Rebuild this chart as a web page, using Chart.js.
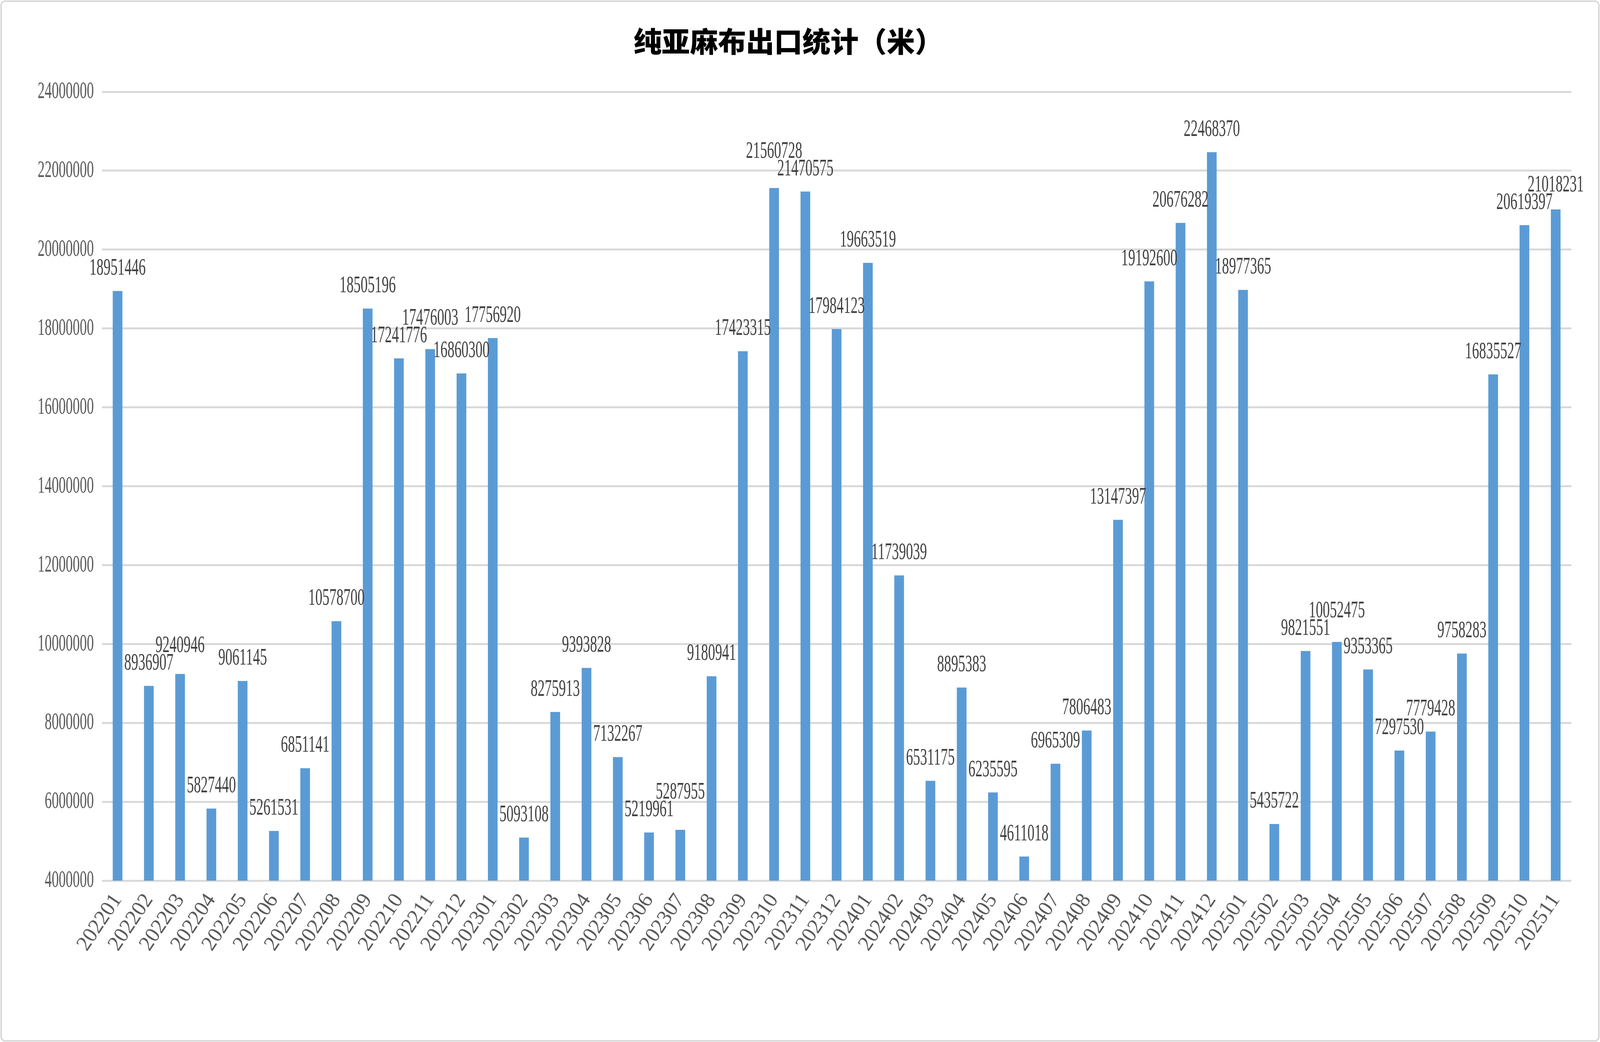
<!DOCTYPE html>
<html>
<head>
<meta charset="utf-8">
<title>纯亚麻布出口统计（米）</title>
<script src="https://cdn.jsdelivr.net/npm/chart.js@4.4.1/dist/chart.umd.min.js"></script>
<style>
  html, body { margin: 0; padding: 0; background: #fff; overflow: hidden; }
  #wrap { width: 100vw; height: 100vh; }
</style>
</head>
<body>
<div id="wrap"><canvas id="chart"></canvas></div>
<script>
// months, 2022-01 .. 2025-11
const months = [
    '202201', '202202', '202203', '202204', '202205', '202206', '202207', '202208', '202209', '202210', '202211', '202212',
    '202301', '202302', '202303', '202304', '202305', '202306', '202307', '202308', '202309', '202310', '202311', '202312',
    '202401', '202402', '202403', '202404', '202405', '202406', '202407', '202408', '202409', '202410', '202411', '202412',
    '202501', '202502', '202503', '202504', '202505', '202506', '202507', '202508', '202509', '202510', '202511'
];

// export volume in metres
const meters = [
    18951446, 8936907, 9240946, 5827440, 9061145, 5261531, 6851141, 10578700, 18505196, 17241776, 17476003, 16860300,
    17756920, 5093108, 8275913, 9393828, 7132267, 5219961, 5287955, 9180941, 17423315, 21560728, 21470575, 17984123,
    19663519, 11739039, 6531175, 8895383, 6235595, 4611018, 6965309, 7806483, 13147397, 19192600, 20676282, 22468370,
    18977365, 5435722, 9821551, 10052475, 9353365, 7297530, 7779428, 9758283, 16835527, 20619397, 21018231
];

const yMin = 4000000;
const yMax = 24000000;
const yStep = 2000000;

const barColor = '#5B9BD5';
const gridColor = '#D9D9D9';
const labelColor = '#404040';
const tickColor = '#595959';

// layout numbers are written for the 6137x2667 picture; SX / SY map them to css px
const SX = window.innerWidth / 6137;
const SY = window.innerHeight / 2667;
const px = v => v * SX;
const py = v => v * SY;

const titleSize = 72;
const numSize = 62;
const numFont = numSize + 'px "Liberation Serif", serif';
const numSqueeze = 0.58;

// narrow serif numbers like the original
function narrowText(ctx, text, x, y, align) {
    ctx.save();
    ctx.translate(x, y);
    ctx.scale(numSqueeze, 1);
    ctx.textAlign = align;
    ctx.fillText(text, 0, 0);
    ctx.restore();
}

// white page + thin grey frame
const framePlugin = {
    id: 'frame',
    beforeDraw(chart) {
        const ctx = chart.ctx;
        ctx.save();
        ctx.fillStyle = '#fff';
        ctx.fillRect(0, 0, chart.width, chart.height);
        ctx.strokeStyle = gridColor;
        ctx.lineWidth = 4;
        ctx.beginPath();
        ctx.roundRect(3, 3, chart.width - 6, chart.height - 6, 10);
        ctx.stroke();
        ctx.restore();
    }
};

// y tick texts and the value labels above the bars
const numberLabels = {
    id: 'numberLabels',
    afterDatasetsDraw(chart) {
        const ctx = chart.ctx;
        const y = chart.scales.y;
        ctx.save();
        ctx.font = numFont;
        ctx.textBaseline = 'middle';

        ctx.fillStyle = tickColor;
        y.ticks.forEach(t => {
            narrowText(ctx, String(t.value), chart.chartArea.left - px(31), y.getPixelForValue(t.value), 'right');
        });

        // label boxes; when two neighbours collide, lift the one on the taller bar
        const bars = chart.getDatasetMeta(0).data;
        const h = numSize * 0.72;
        const boxes = bars.map((bar, i) => {
            const w = ctx.measureText(String(meters[i])).width * numSqueeze;
            return { x: bar.x, y: bar.y - py(58), w: w };
        });
        for (let i = 1; i < boxes.length; i++) {
            const a = boxes[i - 1], b = boxes[i];
            const hit = Math.abs(a.x - b.x) < (a.w + b.w) / 2 && Math.abs(a.y - b.y) < h;
            if (!hit) continue;
            if (meters[i] >= meters[i - 1]) b.y = a.y - h;
            else a.y = b.y - h;
        }

        ctx.fillStyle = labelColor;
        boxes.forEach((b, i) => narrowText(ctx, String(meters[i]), b.x, b.y, 'center'));
        ctx.restore();
    }
};

const titlePadTop = py(106) - titleSize * 0.6;
const titlePadBottom = py(235) - titlePadTop - titleSize * 1.2;

const ctx = document.getElementById('chart').getContext('2d');
const chart = new Chart(ctx, {
    type: 'bar',
    data: {
        labels: months,
        datasets: [{
            data: meters,
            backgroundColor: barColor,
            borderWidth: 0,
            barPercentage: 0.31,
            categoryPercentage: 1.0
        }]
    },
    options: {
        responsive: true,
        maintainAspectRatio: false,
        animation: false,
        layout: {
            padding: { left: px(20), right: px(110), top: 0, bottom: py(33) }
        },
        plugins: {
            legend: { display: false },
            tooltip: { enabled: false },
            title: {
                display: true,
                text: '纯亚麻布出口统计（米）',
                color: '#000',
                font: { family: '"Noto Sans CJK SC", sans-serif', size: titleSize, weight: 900, lineHeight: 1.2 },
                padding: { top: titlePadTop, bottom: titlePadBottom }
            }
        },
        scales: {
            x: {
                grid: { display: false, drawTicks: false },
                border: { display: false },
                ticks: {
                    color: tickColor,
                    font: { family: '"Liberation Serif", serif', size: 54 },
                    minRotation: 56,
                    maxRotation: 56,
                    autoSkip: false,
                    padding: py(22)
                },
                afterFit(scale) { scale.height = py(380); }
            },
            y: {
                min: yMin,
                max: yMax,
                grid: { color: gridColor, lineWidth: py(5), drawTicks: false },
                border: { display: false },
                ticks: {
                    stepSize: yStep,
                    display: false
                },
                afterFit(scale) { scale.width = px(371); }
            }
        }
    },
    plugins: [framePlugin, numberLabels]
});
</script>
</body>
</html>
